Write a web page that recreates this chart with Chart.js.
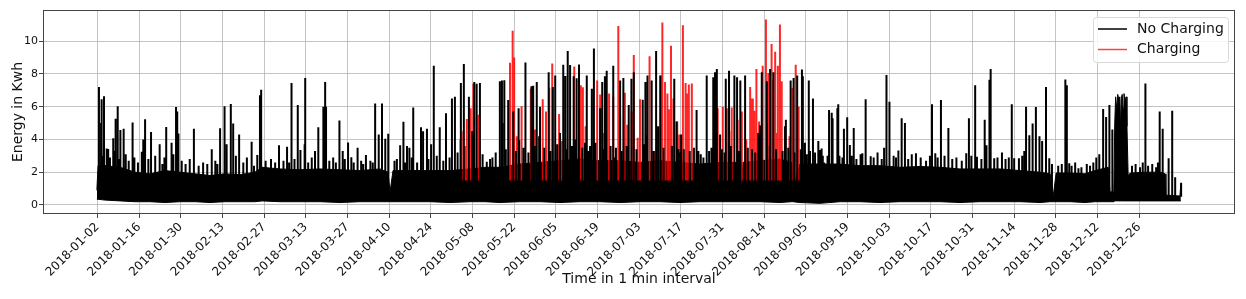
<!DOCTYPE html>
<html>
<head>
<meta charset="utf-8">
<script src="https://cdn.jsdelivr.net/npm/chart.js@4.4.1/dist/chart.umd.min.js"></script>
<style>
  html, body { margin: 0; padding: 0; background: #fff; }
  #chart { display: block; }
</style>
</head>
<body>
<canvas id="chart" width="1246" height="299"></canvas>
<script>
'use strict';

// x axis: position in days after 2018-01-02 and the printed labels
const xTickDays = [0, 14, 28, 42, 56, 70, 84, 98, 112, 126, 140, 154, 168, 182,
  196, 210, 224, 238, 252, 266, 280, 294, 308, 322, 336, 350];
const xTickLabels = ['2018-01-02', '2018-01-16', '2018-01-30', '2018-02-13',
  '2018-02-27', '2018-03-13', '2018-03-27', '2018-04-10', '2018-04-24',
  '2018-05-08', '2018-05-22', '2018-06-05', '2018-06-19', '2018-07-03',
  '2018-07-17', '2018-07-31', '2018-08-14', '2018-09-05', '2018-09-19',
  '2018-10-03', '2018-10-17', '2018-10-31', '2018-11-14', '2018-11-28',
  '2018-12-12', '2018-12-26'];
const yTickValues = [0, 2, 4, 6, 8, 10];

// dichtes Grundband der 1-min-Werte (Tag, obere / untere Kante in kWh)
const bandDays = [-0.2, 0.2, 2.5, 7.6, 12.6, 17.6, 22.7, 27.7, 32.8, 37.8, 42.8,
  47.9, 52.9, 55.3, 61.3, 68.0, 74.8, 81.5, 88.2, 94.9, 97.6, 98.3, 99.3, 105.0,
  111.7, 118.4, 125.2, 130.2, 135.2, 141.9, 148.7, 155.4, 162.1, 168.8, 175.6,
  182.3, 189.0, 195.7, 202.4, 209.2, 215.9, 216.2, 216.9, 222.6, 229.3, 233.3,
  233.6, 236.0, 242.7, 249.5, 256.2, 262.9, 269.6, 276.4, 283.1, 289.8, 296.5,
  303.3, 310.0, 316.7, 320.1, 321.1, 322.1, 326.8, 331.8, 335.2, 339.6, 340.2,
  341.5, 341.8, 342.1, 342.5, 342.8, 343.2, 343.5, 343.8, 344.0, 344.3, 344.6,
  344.9, 345.3, 345.6, 345.9, 346.3, 347.0, 352.0, 357.0, 358.7, 359.0, 363.7, 364.0];
const bandTop = [0.9, 2.4, 2.4, 2.3, 2.0, 1.9, 2.1, 2.0, 1.9, 1.8, 1.9,
  1.85, 2.0, 2.3, 2.2, 2.15, 2.2, 2.15, 2.1, 2.2, 2.0, 0.8, 2.1, 2.1,
  2.1, 2.1, 2.2, 2.3, 2.3, 2.5, 2.6, 2.7, 2.8, 2.7, 2.7,
  2.6, 2.7, 2.6, 2.5, 2.6, 2.6, 0.4, 2.6, 2.7, 2.8, 2.6,
  1.0, 2.5, 2.5, 2.5, 2.4, 2.4, 2.3, 2.35, 2.3, 2.2, 2.2,
  2.2, 2.1, 2.0, 1.9, 0.5, 1.95, 1.95, 1.9, 2.1, 2.3, 0.8,
  0.8, 5.0, 6.6, 5.8, 6.75, 6.4, 6.6, 4.5, 6.5, 6.75, 5.9,
  6.8, 6.3, 6.6, 4.8, 1.8, 1.95, 2.0, 2.0, 1.9, 0.6, 0.55, 1.3];
const bandLow = [0.35, 0.35, 0.3, 0.25, 0.2, 0.2, 0.15, 0.2, 0.2, 0.15, 0.2,
  0.2, 0.2, 0.25, 0.2, 0.2, 0.2, 0.15, 0.2, 0.2, 0.2, 0.2, 0.2, 0.2,
  0.2, 0.15, 0.2, 0.2, 0.15, 0.2, 0.2, 0.15, 0.2, 0.2, 0.15,
  0.2, 0.2, 0.15, 0.2, 0.2, 0.2, 0.2, 0.2, 0.2, 0.15, 0.2,
  0.2, 0.15, 0.1, 0.2, 0.2, 0.15, 0.2, 0.2, 0.2, 0.15, 0.2,
  0.2, 0.2, 0.15, 0.2, 0.2, 0.2, 0.2, 0.15, 0.2, 0.2, 0.2,
  0.2, 0.25, 0.25, 0.25, 0.25, 0.25, 0.25, 0.25, 0.25, 0.25, 0.25,
  0.25, 0.25, 0.25, 0.25, 0.25, 0.25, 0.25, 0.25, 0.25, 0.25, 0.25, 0.25];

// einzelne Spitzen ohne Laden [Tag, kWh]
const noChargeSpikes = [
  [0.5, 7.2], [1.2, 5.0], [1.4, 6.46], [2.2, 6.63], [3.1, 3.45], [3.6, 3.41],
  [5.3, 4.07], [6.1, 5.26], [6.8, 6.02], [7.7, 4.57], [8.8, 4.65], [11.8, 5.04],
  [14.9, 3.25], [15.4, 4.0], [16.0, 5.24], [18.0, 4.45], [20.9, 3.7], [23.1, 4.76],
  [24.9, 3.8], [26.4, 5.98], [26.8, 5.7], [27.2, 4.37], [32.4, 4.65], [38.4, 3.4],
  [41.2, 4.68], [42.7, 6.02], [43.4, 3.7], [44.8, 6.16], [45.6, 4.98], [46.5, 3.0],
  [47.6, 4.3], [51.8, 3.86], [53.7, 3.05], [54.6, 6.7], [55.0, 7.03], [61.0, 3.64],
  [63.7, 3.55], [65.2, 7.45], [67.3, 6.1], [68.2, 3.35], [69.6, 3.7], [69.8, 7.75],
  [73.1, 3.3], [74.2, 4.75], [75.9, 6.0], [76.5, 7.5], [76.8, 6.0], [79.2, 2.9],
  [81.3, 5.15], [82.4, 3.3], [84.2, 3.82], [85.3, 2.92], [87.4, 3.5], [90.2, 3.05],
  [93.3, 6.2], [94.5, 4.3], [95.6, 6.2], [96.7, 4.05], [97.7, 4.35], [101.7, 3.65],
  [102.8, 5.08], [104.0, 3.6], [104.8, 3.5], [106.1, 5.95], [108.7, 4.75], [109.4, 4.5],
  [110.7, 4.65], [112.1, 3.7], [113.0, 8.5], [115.0, 4.75], [117.1, 5.6], [119.1, 6.5],
  [120.1, 6.6], [121.0, 3.2], [122.1, 7.45], [123.1, 8.6], [124.8, 6.6], [125.9, 4.5],
  [126.6, 7.5], [127.4, 7.4], [128.5, 7.45], [130.8, 2.64], [131.9, 2.8], [135.2, 7.55],
  [135.9, 7.6], [136.7, 7.62], [138.0, 6.4], [139.7, 5.7], [141.5, 5.9], [143.8, 8.7],
  [144.8, 3.2], [145.8, 7.25], [146.4, 7.27], [147.6, 7.5], [148.7, 6.0], [151.6, 8.1],
  [153.0, 7.2], [153.8, 7.9], [156.5, 8.56], [157.2, 7.87], [158.0, 9.4], [158.8, 8.55],
  [160.0, 7.85], [161.0, 7.73], [161.8, 8.57], [164.4, 7.9], [166.1, 7.1], [166.8, 9.55],
  [168.9, 5.9], [169.6, 7.5], [170.5, 7.85], [171.1, 8.2], [173.3, 8.5], [175.6, 7.6],
  [176.7, 7.75], [178.5, 6.1], [179.4, 7.7], [180.2, 8.1], [183.2, 6.42], [184.1, 7.5],
  [184.8, 7.9], [186.2, 7.6], [187.7, 9.4], [189.2, 7.9], [193.8, 7.7], [194.6, 5.1],
  [196.1, 4.3], [201.3, 5.8], [204.7, 7.9], [206.9, 7.8], [207.5, 8.1], [208.1, 8.3],
  [211.1, 7.7], [212.2, 8.2], [214.0, 7.9], [214.9, 7.8], [216.0, 7.6], [217.6, 7.9],
  [222.6, 4.85], [223.2, 8.1], [224.9, 7.55], [226.0, 8.3], [227.1, 8.1], [231.3, 5.2],
  [232.9, 7.6], [233.9, 7.75], [235.1, 7.9], [236.7, 8.27], [237.0, 7.85], [239.0, 7.6],
  [240.4, 6.5], [242.2, 3.9], [242.8, 3.35], [244.1, 2.6], [245.8, 5.8], [246.7, 5.63],
  [247.0, 5.3], [248.6, 5.9], [248.9, 6.15], [250.8, 4.65], [251.9, 5.35], [252.8, 3.66],
  [254.1, 4.7], [257.0, 3.15], [258.1, 6.46], [259.8, 2.98], [264.3, 3.5], [265.1, 7.93],
  [266.1, 6.3], [269.1, 3.33], [270.2, 5.3], [271.3, 5.0], [275.0, 3.15], [279.7, 3.0],
  [280.4, 6.15], [281.5, 3.15], [283.4, 6.4], [285.9, 4.7], [291.9, 3.15], [292.8, 5.3],
  [294.9, 7.3], [295.5, 2.95], [298.1, 5.2], [298.7, 3.65], [299.7, 7.65], [300.1, 8.3],
  [301.3, 2.86], [307.2, 6.15], [308.0, 2.86], [309.6, 2.86], [312.0, 6.0], [313.1, 4.26],
  [314.2, 4.98], [315.3, 5.98], [316.5, 4.2], [317.4, 3.9], [318.7, 7.2], [319.8, 2.86],
  [325.2, 7.66], [325.7, 7.3], [326.5, 2.55], [329.6, 2.24], [333.5, 2.4], [336.6, 3.1],
  [337.9, 5.86], [338.9, 5.37], [340.0, 6.1], [341.0, 4.6], [352.1, 7.42], [356.9, 5.7],
  [357.9, 4.65], [359.9, 2.86], [361.1, 5.75], [362.1, 1.7], [364.1, 1.35],
  // mittlere Spitzen im Sommer
  [122.0, 4.0], [126.0, 4.3], [136.0, 5.0], [141.7, 3.95], [148.4, 4.2], [155.4, 4.4],
  [160.4, 4.0], [163.8, 3.8], [165.5, 3.6], [171.1, 3.8], [173.9, 2.9], [184.5, 4.3],
  [188.4, 4.8], [195.2, 3.4], [201.9, 3.3], [203.6, 2.9], [209.2, 4.3], [217.6, 3.6],
  [222.0, 4.4], [231.0, 4.8], [237.7, 3.8], [239.4, 3.3], [243.3, 3.45], [245.3, 3.0],
];

// kleine Nadeln knapp über dem Band [Tag, kWh]
const smallSpikes = [
  [1.8, 3.0], [4.2, 2.9], [5.8, 3.3], [7.2, 2.8], [9.5, 3.1], [10.5, 2.7], [12.4, 2.9],
  [13.6, 2.6], [17.1, 2.8], [19.4, 3.0], [21.8, 2.5], [22.5, 2.9], [25.5, 3.1],
  [28.3, 2.7], [29.6, 2.5], [31.0, 2.8], [34.0, 2.4], [35.5, 2.6], [36.9, 2.5],
  [39.6, 2.7], [40.3, 2.5], [49.0, 2.6], [50.2, 2.9], [52.6, 2.4], [56.5, 2.7],
  [58.3, 2.8], [59.7, 2.6], [62.5, 2.7], [64.4, 2.6], [66.2, 2.8], [70.8, 2.6],
  [72.0, 2.9], [77.9, 2.7], [80.1, 2.6], [83.1, 2.8], [86.1, 2.6], [88.6, 2.7],
  [89.3, 2.5], [91.7, 2.7], [92.5, 2.6], [99.8, 2.7], [100.6, 2.8], [103.4, 2.6],
  [105.6, 2.9], [107.4, 2.6], [111.2, 2.8], [114.0, 3.0], [116.2, 2.7], [118.3, 2.9],
  [129.4, 3.1], [132.7, 2.9], [133.8, 3.2], [137.2, 3.4], [140.6, 3.3], [143.1, 3.5],
  [146.9, 3.6], [150.1, 3.5], [152.2, 3.3], [154.5, 3.7], [157.7, 3.4], [159.4, 3.6],
  [162.9, 3.5], [165.0, 3.3], [167.3, 3.8], [170.0, 3.4], [172.4, 3.6], [174.2, 3.5],
  [176.0, 3.3], [177.8, 3.6], [181.1, 3.4], [183.8, 3.7], [186.9, 3.3], [190.2, 3.5],
  [193.0, 3.6], [195.8, 3.2], [197.0, 3.4], [199.0, 3.3], [200.4, 3.5], [202.7, 3.1],
  [205.5, 3.3], [206.3, 3.5], [209.8, 3.4], [210.7, 3.2], [212.8, 3.6], [215.4, 3.3],
  [218.5, 3.5], [219.9, 3.4], [221.0, 3.2], [225.9, 3.6], [228.0, 3.4], [230.2, 3.3],
  [232.1, 3.5], [234.2, 3.2], [236.3, 3.4], [238.3, 3.1], [241.1, 3.2], [243.7, 3.0],
  [249.3, 3.0], [250.3, 2.9], [253.4, 3.0], [255.0, 2.8], [256.4, 3.1], [260.8, 2.9],
  [262.1, 3.2], [263.5, 2.8], [267.5, 3.0], [268.3, 2.9], [272.4, 2.8], [273.6, 3.1],
  [276.6, 2.9], [278.4, 2.7], [282.3, 2.9], [284.6, 3.0], [287.2, 2.8], [288.6, 2.9],
  [290.4, 2.7], [293.6, 3.0], [297.0, 2.8], [302.4, 2.9], [303.9, 3.2], [305.1, 2.8],
  [306.2, 2.9], [310.7, 3.0], [311.4, 3.3], [320.7, 2.5], [322.8, 2.4], [324.0, 2.5],
  [327.3, 2.4], [328.5, 2.6], [330.6, 2.3], [332.4, 2.5], [334.6, 2.6], [335.6, 2.9],
  [347.6, 2.4], [348.8, 2.5], [350.3, 2.3], [351.2, 2.6], [353.0, 2.4], [354.4, 2.5],
  [355.7, 2.3], [356.3, 2.6],
];

// Spitzen beim Laden [Tag, kWh]
const chargeSpikes = [
  [122.9, 4.5], [124.1, 5.25], [125.4, 5.9], [126.3, 7.4], [128.0, 5.5], [138.6, 8.68],
  [139.5, 10.63], [140.0, 9.0], [142.5, 6.03], [145.6, 7.1], [149.6, 6.45], [150.7, 5.7],
  [151.8, 7.15], [152.8, 8.64], [155.1, 5.55], [160.2, 8.45], [162.4, 7.3], [163.1, 7.18],
  [167.9, 7.6], [168.9, 6.75], [171.9, 6.8], [173.3, 6.6], [175.0, 10.93], [175.6, 5.4],
  [177.2, 6.85], [179.5, 5.7], [180.2, 9.15], [182.3, 6.45], [185.5, 9.08], [187.1, 3.3],
  [189.0, 7.9], [189.8, 11.14], [190.7, 7.5], [191.5, 6.8], [192.0, 5.85], [192.7, 9.72],
  [193.5, 6.5], [194.8, 5.1], [196.7, 10.97], [197.6, 7.45], [198.1, 6.8], [198.7, 7.35],
  [199.7, 7.42], [208.4, 5.9], [210.1, 6.0], [211.5, 5.9], [213.1, 5.95], [215.1, 5.2],
  [216.5, 5.7], [219.3, 7.2], [219.6, 6.5], [220.2, 6.5], [220.7, 5.75], [221.4, 8.3],
  [222.3, 5.1], [223.5, 8.5], [224.6, 11.32], [225.4, 8.06], [226.5, 9.82], [226.9, 7.65],
  [227.7, 9.35], [228.6, 8.5], [229.3, 11.02], [229.9, 7.55], [233.5, 7.15], [234.6, 8.56],
  [235.6, 6.0],
  // mittlere Ladespitzen
  [123.5, 3.6], [140.9, 4.2], [147.0, 4.6], [156.0, 3.9], [164.0, 4.8], [170.2, 4.4],
  [178.0, 4.9], [181.5, 4.1], [188.2, 4.6], [195.5, 4.3], [212.3, 4.5], [218.0, 4.0],
  [225.0, 5.0], [228.2, 4.4], [232.5, 4.2],
];

// Spitze als senkrechte Linie von der Basis bis zum Wert, danach Lücke
const spikePoints = (spikes, base) =>
  spikes.flatMap(([d, v]) => [{ x: d, y: base }, { x: d, y: v }, { x: d, y: null }]);

const font = 'DejaVu Sans';

// Rahmen, y-Titel und Legende (wie matplotlib, Legende oben rechts)
const frameAndLegend = {
  id: 'frameAndLegend',
  afterDraw(chart) {
    const { ctx, chartArea: a } = chart;
    ctx.save();
    ctx.strokeStyle = '#444';
    ctx.lineWidth = 1;
    ctx.strokeRect(a.left + 0.5, a.top + 0.5, a.right - a.left - 1, a.bottom - a.top - 1);

    // y-Achsentitel
    ctx.save();
    ctx.translate(18, (a.top + a.bottom) / 2);
    ctx.rotate(-Math.PI / 2);
    ctx.font = `14px '${font}'`;
    ctx.fillStyle = '#111';
    ctx.textAlign = 'center';
    ctx.textBaseline = 'middle';
    ctx.fillText('Energy in Kwh', 0, 0);
    ctx.restore();

    const w = 135, h = 45;
    const x = a.right - 7 - w, y = a.top + 7;
    ctx.beginPath();
    ctx.roundRect(x + 0.5, y + 0.5, w, h, 3);
    ctx.fillStyle = 'rgba(255,255,255,0.85)';
    ctx.fill();
    ctx.strokeStyle = '#d8d8d8';
    ctx.stroke();

    const entries = [
      { label: 'No Charging', color: '#000' },
      { label: 'Charging', color: 'rgba(255,0,0,0.75)' },
    ];
    ctx.font = `14px '${font}'`;
    ctx.textBaseline = 'middle';
    entries.forEach((e, i) => {
      const ly = y + 12 + i * 20.5;
      ctx.strokeStyle = e.color;
      ctx.lineWidth = 1.5;
      ctx.beginPath();
      ctx.moveTo(x + 5, ly);
      ctx.lineTo(x + 34, ly);
      ctx.stroke();
      ctx.fillStyle = '#111';
      ctx.fillText(e.label, x + 44, ly);
    });
    ctx.restore();
  },
};

new Chart(document.getElementById('chart'), {
  type: 'line',
  data: {
    datasets: [
      {
        label: 'No Charging',
        data: spikePoints([...noChargeSpikes, ...smallSpikes], 0.5),
        borderColor: '#000',
        borderWidth: 2,
        order: 0,
      },
      {
        label: 'Charging',
        data: spikePoints(chargeSpikes, 1.5),
        borderColor: 'rgba(255,0,0,0.85)',
        borderWidth: 2,
        order: 1,
      },
      {
        label: 'band top',
        data: bandDays.map((d, i) => ({ x: d, y: bandTop[i] })),
        borderColor: '#000',
        backgroundColor: '#000',
        borderWidth: 1,
        fill: '+1',
        order: 2,
      },
      {
        label: 'band low',
        data: bandDays.map((d, i) => ({ x: d, y: bandLow[i] })),
        borderColor: '#000',
        borderWidth: 1,
        order: 3,
      },
    ],
  },
  options: {
    responsive: false,
    animation: false,
    devicePixelRatio: 1,
    spanGaps: false,
    elements: { point: { radius: 0 }, line: { tension: 0 } },
    layout: { padding: { left: 0, right: 11, top: 10, bottom: 0 } },
    plugins: {
      legend: { display: false },
      tooltip: { enabled: false },
    },
    scales: {
      x: {
        type: 'linear',
        min: -18.3,
        max: 382.2,
        afterBuildTicks: scale => {
          scale.ticks = xTickDays.map(v => ({ value: v }));
        },
        afterFit: scale => {
          scale.height = 85;
          scale.paddingLeft = 0;
          scale.paddingRight = 0;
        },
        ticks: {
          autoSkip: false,
          minRotation: 45,
          maxRotation: 45,
          padding: 2,
          color: '#111',
          font: { family: font, size: 12 },
          callback: (value, index) => xTickLabels[index],
        },
        grid: {
          color: 'rgba(176,176,176,0.75)',
          lineWidth: 1,
          tickLength: 4,
          tickColor: '#444',
        },
        border: { display: false },
        title: {
          display: true,
          text: 'Time in 1 min interval',
          color: '#111',
          font: { family: font, size: 14 },
          padding: { top: 0, bottom: 11 },
        },
      },
      y: {
        type: 'linear',
        min: -0.55,
        max: 11.9,
        afterBuildTicks: scale => {
          scale.ticks = yTickValues.map(v => ({ value: v }));
        },
        afterFit: scale => {
          scale.width = 43;
          scale.paddingTop = 0;
          scale.paddingBottom = 0;
        },
        ticks: {
          padding: 1,
          color: '#111',
          font: { family: font, size: 11 },
        },
        grid: {
          color: 'rgba(176,176,176,0.75)',
          lineWidth: 1,
          tickLength: 4,
          tickColor: '#444',
        },
        border: { display: false },
        title: { display: false },
      },
    },
  },
  plugins: [frameAndLegend],
});
</script>
</body>
</html>
